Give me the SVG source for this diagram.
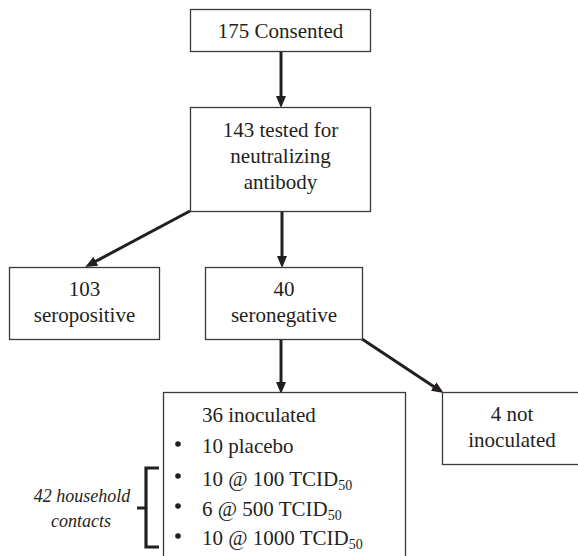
<svg xmlns="http://www.w3.org/2000/svg" width="578" height="556" viewBox="0 0 578 556">
<style>
.box{fill:#fff;stroke:#3a3a3a;stroke-width:1.3}
.c{text-anchor:middle}
.conn line{stroke:#231f20;stroke-width:3}
</style>
<defs>
<marker id="ah" markerUnits="userSpaceOnUse" markerWidth="12" markerHeight="10" refX="5" refY="5" orient="auto">
<path d="M0,0 L12,5 L0,10 z" fill="#231f20"/>
</marker>
</defs>
<rect width="578" height="556" fill="#fff"/>
<g id="connectors" class="conn">
<line x1="281" y1="52" x2="281" y2="101" marker-end="url(#ah)"/>
<line x1="190" y1="211" x2="91.4" y2="263.6" marker-end="url(#ah)"/>
<line x1="282" y1="211" x2="282" y2="261" marker-end="url(#ah)"/>
<line x1="281" y1="339" x2="281" y2="387" marker-end="url(#ah)"/>
<line x1="362" y1="339" x2="437.8" y2="389.2" marker-end="url(#ah)"/>
</g>
<g font-family="Liberation Serif" font-size="21" fill="#231f20">
<g id="consented">
<rect class="box" x="190.5" y="9.5" width="180" height="42"/>
<text class="c" x="280.5" y="38">175 Consented</text>
</g>
<g id="tested">
<rect class="box" x="190.5" y="107.5" width="180" height="104"/>
<text class="c" x="280.5" y="137">143 tested for</text>
<text class="c" x="280.5" y="163">neutralizing</text>
<text class="c" x="280.5" y="189">antibody</text>
</g>
<g id="seropositive">
<rect class="box" x="9.5" y="267.5" width="150" height="72"/>
<text class="c" x="84.5" y="296">103</text>
<text class="c" x="84.5" y="322">seropositive</text>
</g>
<g id="seronegative">
<rect class="box" x="205.5" y="267.5" width="157" height="72"/>
<text class="c" x="284" y="296">40</text>
<text class="c" x="284" y="322">seronegative</text>
</g>
<g id="inoculated">
<rect class="box" x="163.5" y="392.5" width="242" height="180"/>
<text x="202" y="422">36 inoculated</text>
<circle cx="178" cy="444" r="2.8" fill="#231f20"/>
<text x="202" y="453">10 placebo</text>
<circle cx="178" cy="476" r="2.8" fill="#231f20"/>
<text x="202" y="486">10 @ 100 TCID<tspan font-size="14" dy="4">50</tspan></text>
<circle cx="178" cy="506" r="2.8" fill="#231f20"/>
<text x="202" y="516">6 @ 500 TCID<tspan font-size="14" dy="4">50</tspan></text>
<circle cx="178" cy="536" r="2.8" fill="#231f20"/>
<text x="202" y="545">10 @ 1000 TCID<tspan font-size="14" dy="4">50</tspan></text>
</g>
<g id="not-inoculated">
<rect class="box" x="442.5" y="392.5" width="150" height="72"/>
<text class="c" x="512" y="421">4 not</text>
<text class="c" x="512" y="447">inoculated</text>
</g>
<g id="household">
<path d="M159,468 L146,468 L146,547 L159,547 M137,508 L146,508" fill="none" stroke="#231f20" stroke-width="3.2"/>
<text class="c" font-style="italic" font-size="18" x="82" y="502">42 household</text>
<text class="c" font-style="italic" font-size="18" x="81" y="527">contacts</text>
</g>
</g>
</svg>
